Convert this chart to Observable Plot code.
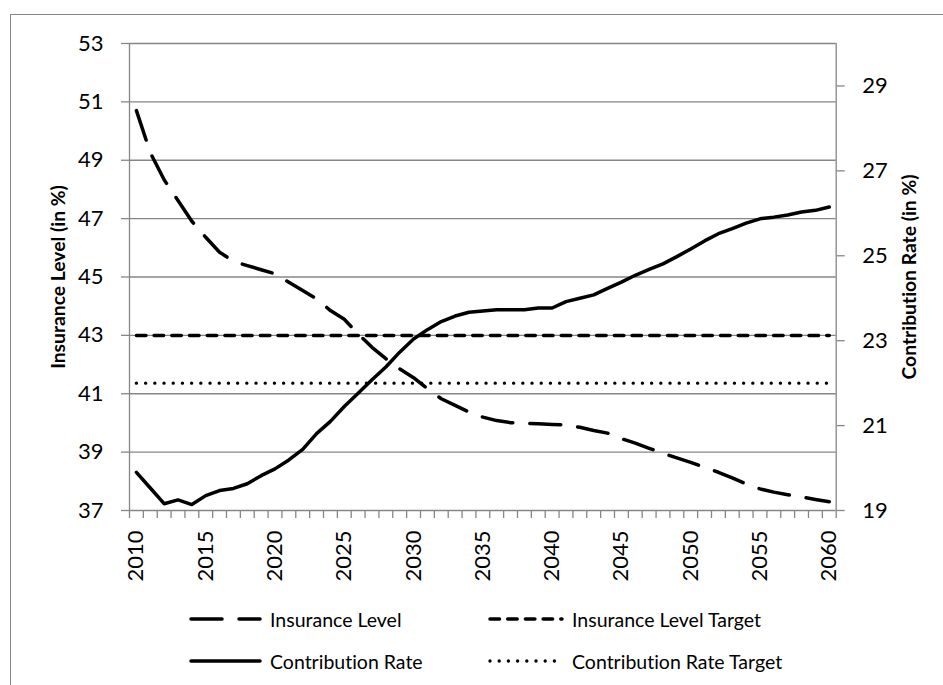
<!DOCTYPE html>
<html>
<head>
<meta charset="utf-8">
<script src="https://cdn.jsdelivr.net/npm/d3@7"></script>
<script src="https://cdn.jsdelivr.net/npm/@observablehq/plot@0.6"></script>
<style>
  html, body { margin: 0; padding: 0; background: #fff; }
  #wrap { position: relative; width: 943px; height: 685px; overflow: hidden; font-family: Lato, "Open Sans", sans-serif; font-variant-ligatures: none; font-feature-settings: "liga" 0, "clig" 0; }
  #wrap svg text { font-variant-ligatures: none; font-feature-settings: "liga" 0, "clig" 0; }
  #frame { position: absolute; left: 10px; top: 14px; width: 1000px; height: 1000px; border: 1px solid #868686; box-sizing: border-box; }
  #chart { position: absolute; left: 0; top: 0; }
  .leg { position: absolute; display: flex; align-items: center; font-size: 19.5px; color: #000; white-space: nowrap; }
  .leg svg { margin-right: 8px; }
</style>
</head>
<body>
<div id="wrap">
  <div id="frame"></div>
  <div id="chart"></div>
</div>
<script>
// ---- data ----
const years = [2010,2011,2012,2013,2014,2015,2016,2017,2018,2019,
  2020,2021,2022,2023,2024,2025,2026,2027,2028,2029,
  2030,2031,2032,2033,2034,2035,2036,2037,2038,2039,
  2040,2041,2042,2043,2044,2045,2046,2047,2048,2049,
  2050,2051,2052,2053,2054,2055,2056,2057,2058,2059,2060];
const insuranceLevel = [50.70,49.26,48.33,47.62,46.91,46.36,45.85,45.54,45.39,45.25,
  45.11,44.82,44.54,44.25,43.85,43.55,43.05,42.59,42.20,41.85,
  41.55,41.17,40.83,40.60,40.37,40.20,40.08,40.01,39.99,39.97,
  39.95,39.93,39.85,39.74,39.65,39.46,39.31,39.13,38.96,38.80,
  38.65,38.48,38.31,38.12,37.91,37.74,37.63,37.54,37.46,37.38,37.30];
const contributionRate = [19.90,19.53,19.16,19.25,19.14,19.35,19.47,19.52,19.63,19.82,
  19.98,20.19,20.44,20.81,21.10,21.45,21.76,22.08,22.38,22.73,
  23.04,23.26,23.45,23.58,23.67,23.70,23.73,23.73,23.73,23.77,
  23.77,23.92,24.00,24.08,24.23,24.38,24.54,24.68,24.81,24.98,
  25.16,25.35,25.52,25.64,25.77,25.87,25.91,25.96,26.03,26.07,26.15];
const insuranceLevelTarget = 43;
const contributionRateTarget = 22;
const leftTicks = [37,39,41,43,45,47,49,51,53];
const rightTicks = [19,21,23,25,27,29];
const xLabelYears = [2010,2015,2020,2025,2030,2035,2040,2045,2050,2055,2060];
const seriesNames = ["Insurance Level","Insurance Level Target","Contribution Rate","Contribution Rate Target"];

// ---- scales for the dual axis ----
const leftDomain = [37, 53];
const rightDomain = [19, 30];
const toLeft = v => leftDomain[0] + (v - rightDomain[0]) * (leftDomain[1] - leftDomain[0]) / (rightDomain[1] - rightDomain[0]);
const fromLeft = v => rightDomain[0] + (v - leftDomain[0]) * (rightDomain[1] - rightDomain[0]) / (leftDomain[1] - leftDomain[0]);

const il = years.map((y, i) => ({year: y, v: insuranceLevel[i]}));
const cr = years.map((y, i) => ({year: y, v: toLeft(contributionRate[i])}));
const ilT = years.map(y => ({year: y, v: insuranceLevelTarget}));
const crT = years.map(y => ({year: y, v: toLeft(contributionRateTarget)}));
const boundaries = years.map(y => y - 0.5).concat([years[years.length - 1] + 0.5]);

const grid = "#868686";
const styles = {
  il: {strokeDasharray: "31,17", strokeWidth: 3.5},
  ilT: {strokeDasharray: "9.5,8.2", strokeWidth: 3.5},
  cr: {strokeDasharray: null, strokeWidth: 3.5},
  crT: {strokeDasharray: "0,9.2", strokeWidth: 3.4}
};

const chart = Plot.plot({
  width: 943,
  height: 600,
  marginLeft: 129,
  marginRight: 107.3,
  marginTop: 43,
  marginBottom: 90,
  style: {fontFamily: "Lato, 'Open Sans', sans-serif", color: "#000", background: "transparent", overflow: "visible"},
  x: {domain: [boundaries[0], boundaries[boundaries.length - 1]]},
  y: {domain: leftDomain},
  marks: [
    Plot.gridY(leftTicks, {stroke: grid, strokeOpacity: 1, strokeWidth: 1.3}),
    Plot.ruleX([boundaries[0], boundaries[boundaries.length - 1]], {stroke: grid, strokeWidth: 1.3}),
    Plot.axisY(leftTicks, {anchor: "left", tickSize: 8, tickPadding: 18, stroke: grid, strokeWidth: 1.3, fontSize: 22, label: null}),
    Plot.axisY(rightTicks.map(toLeft), {anchor: "right", tickSize: 8, tickPadding: 18, stroke: grid, strokeWidth: 1.3, fontSize: 22, tickFormat: d => String(Math.round(fromLeft(d))), label: null}),
    Plot.axisX(boundaries, {tickSize: 8, stroke: grid, strokeWidth: 1.3, tickFormat: () => "", label: null}),
    Plot.axisX(xLabelYears, {tickSize: 0, tickPadding: 20, tickRotate: -90, fontSize: 22, tickFormat: d => String(d), label: null}),
    Plot.text([seriesNames[0] + " (in %)"], {frameAnchor: "left", textAnchor: "middle", rotate: -90, dx: -71, fontWeight: "bold", fontSize: 19.3, fill: "#000"}),
    Plot.text([seriesNames[2] + " (in %)"], {frameAnchor: "right", textAnchor: "middle", rotate: -90, dx: 74, fontWeight: "bold", fontSize: 19.3, fill: "#000"}),
    Plot.lineY(ilT, {x: "year", y: "v", stroke: "#000", ...styles.ilT, strokeLinecap: "round"}),
    Plot.lineY(crT, {x: "year", y: "v", stroke: "#000", ...styles.crT, strokeLinecap: "round"}),
    Plot.lineY(cr, {x: "year", y: "v", stroke: "#000", ...styles.cr, strokeLinecap: "round", strokeLinejoin: "round"}),
    Plot.lineY(il, {x: "year", y: "v", stroke: "#000", ...styles.il, strokeLinecap: "round", strokeLinejoin: "round"})
  ]
});
document.getElementById("chart").appendChild(chart);

// ---- legend (HTML below the plot) ----
const legendItems = [
  {name: seriesNames[0], s: styles.il, left: 191, top: 619, w: 69},
  {name: seriesNames[1], s: styles.ilT, left: 490, top: 619, w: 72},
  {name: seriesNames[2], s: styles.cr, left: 191, top: 661, w: 69},
  {name: seriesNames[3], s: styles.crT, left: 490, top: 661, w: 72}
];
const wrap = document.getElementById("wrap");
legendItems.forEach(it => {
  const div = document.createElement("div");
  div.className = "leg";
  div.style.left = (it.left - 2) + "px";
  div.style.top = (it.top - 13) + "px";
  div.style.height = "26px";
  const dash = it.s.strokeDasharray ? `stroke-dasharray="${it.s.strokeDasharray}"` : "";
  div.innerHTML = `<svg width="${it.w + 4}" height="10"><line x1="2" y1="5" x2="${it.w + 2}" y2="5" stroke="#000" stroke-width="${it.s.strokeWidth}" stroke-linecap="round" ${dash}/></svg><span>${it.name}</span>`;
  wrap.appendChild(div);
});
</script>
</body>
</html>
